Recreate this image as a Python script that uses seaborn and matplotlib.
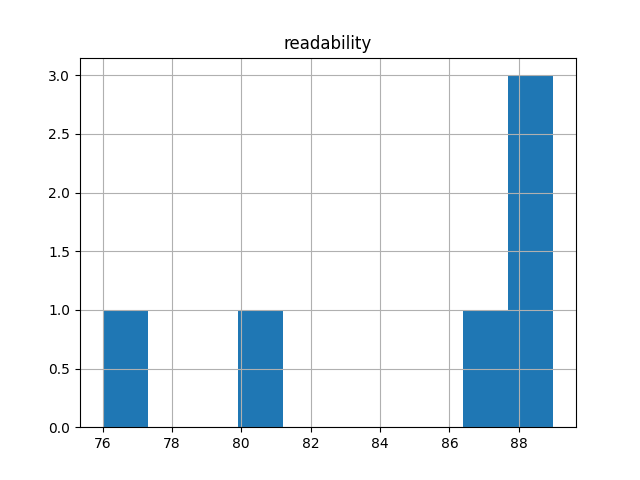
import pandas as pd
import matplotlib
matplotlib.use("Agg")
import matplotlib.pyplot as plt
import seaborn as sns

# readability scores (10 bins between 76 and 89)
readability = [76.0, 80.0, 87.0, 88.0, 88.5, 89.0]

df = pd.DataFrame({"readability": readability})

fig, ax = plt.subplots(figsize=(6.4, 4.8), dpi=100)
sns.histplot(data=df, x="readability", bins=10, color="#1f77b4", alpha=1.0,
             edgecolor="none", linewidth=0, ax=ax)
ax.grid(True, color="#b0b0b0", linewidth=0.8)
ax.set_title("readability")
ax.set_xlabel("")
ax.set_ylabel("")

plt.savefig("out.png", dpi=100)
